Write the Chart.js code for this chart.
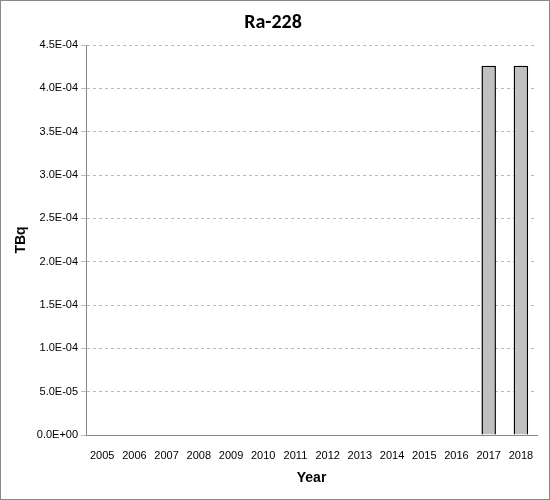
<!DOCTYPE html><html><head><script src="https://cdn.jsdelivr.net/npm/chart.js@4"></script>
<style>body{margin:0;background:#fff}#w{width:550px;height:500px;box-sizing:border-box;border:1px solid #888}</style></head><body><div id="w"><canvas id="c"></canvas></div>
<script>
const years=['2005','2006','2007','2008','2009','2010','2011','2012','2013','2014','2015','2016','2017','2018'];
const values=[0,0,0,0,0,0,0,0,0,0,0,0,4.26e-4,4.26e-4];
new Chart(document.getElementById('c'),{type:'bar',data:{labels:years,datasets:[{data:values,backgroundColor:'#c0c0c0',borderColor:'#000',borderWidth:1.5,categoryPercentage:1,barPercentage:0.45}]},
options:{responsive:true,maintainAspectRatio:false,animation:false,layout:{padding:{left:8,right:12,top:2,bottom:8}},
plugins:{legend:{display:false},title:{display:true,text:'Ra-228',font:{family:'Calibri, Carlito, "Liberation Sans", sans-serif',size:20,weight:'bold'},color:'#000',padding:{top:8,bottom:10}}},
scales:{x:{grid:{display:false},border:{color:'#888'},ticks:{color:'#000',font:{family:'"Liberation Sans", sans-serif',size:11},maxRotation:0,autoSkip:false,padding:6},title:{display:true,text:'Year',font:{family:'"Liberation Sans", sans-serif',size:14,weight:'bold'},color:'#000',padding:{top:2}}},
y:{min:0,max:4.5e-4,border:{color:'#888',dash:[3,3]},grid:{color:'#bbb',tickLength:5},ticks:{stepSize:5e-5,color:'#000',font:{family:'"Liberation Sans", sans-serif',size:11},callback:v=>{let s=Number(v).toExponential(1).toUpperCase();return s.replace(/E([+-])(\d)$/,'E$10$2');}},
title:{display:true,text:'TBq',font:{family:'"Liberation Sans", sans-serif',size:14,weight:'bold'},color:'#000'}}}}});
</script></body></html>
